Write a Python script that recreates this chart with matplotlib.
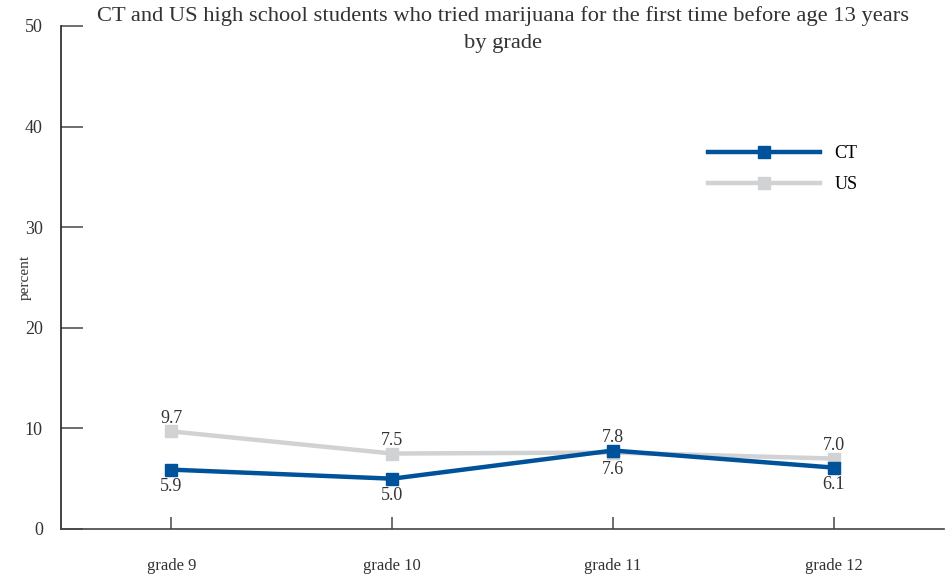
import numpy as np
import matplotlib
matplotlib.use('Agg')
import matplotlib.pyplot as plt

plt.rcParams['font.family'] = ['Liberation Serif', 'DejaVu Serif']

grades = ['grade 9', 'grade 10', 'grade 11', 'grade 12']
ct = [5.9, 5.0, 7.8, 6.1]
us = [9.7, 7.5, 7.6, 7.0]
yticks = [0, 10, 20, 30, 40, 50]

ct_color = '#00539b'
us_color = '#d1d2d4'

fig = plt.figure(figsize=(9.52, 5.76), dpi=100)
ax = fig.add_axes([0.064, 0.0816, 0.928, 0.8734])

x = np.arange(len(grades))
ax.plot(x, us, color=us_color, lw=3.2, marker='s', markersize=9, label='US', zorder=2)
ax.plot(x, ct, color=ct_color, lw=3.2, marker='s', markersize=9, label='CT', zorder=3)

for i in range(len(grades)):
    hi, lo = (ct[i], us[i]) if ct[i] > us[i] else (us[i], ct[i])
    ax.annotate(f'{hi:.1f}', (x[i], hi), xytext=(0, 3), textcoords='offset points',
                ha='center', va='bottom', fontsize=13, color='#333333')
    ax.annotate(f'{lo:.1f}', (x[i], lo), xytext=(0, -6), textcoords='offset points',
                ha='center', va='top', fontsize=13, color='#333333')

ax.set_xlim(-0.5, 3.5)
ax.set_ylim(0, 50)
ax.set_xticks(x)
ax.set_xticklabels(grades)
ax.set_yticks(yticks)
ax.tick_params(axis='y', direction='in', length=16, width=1.2, color='#555555',
               labelsize=13, pad=13, labelcolor='#333333')
ax.tick_params(axis='x', direction='in', length=9, width=1.2, color='#555555',
               labelsize=12, pad=21, labelcolor='#333333')
for s in ['top', 'right']:
    ax.spines[s].set_visible(False)
ax.spines['left'].set_color('#222222')
ax.spines['bottom'].set_color('#444444')
ax.spines['left'].set_linewidth(1.2)
ax.spines['bottom'].set_linewidth(1.2)

ax.set_ylabel('percent', fontsize=11, color='#333333')
ax.yaxis.set_label_coords(-0.033, 0.5)

handles, labels = ax.get_legend_handles_labels()
ax.legend(handles[::-1], labels[::-1], loc='upper right', bbox_to_anchor=(0.92, 0.795),
          frameon=False, handlelength=6.2, fontsize=13, labelspacing=0.75,
          handletextpad=0.8)

fig.text(0.528, 0.99, 'CT and US high school students who tried marijuana for the first time before age 13 years\nby grade',
         ha='center', va='top', fontsize=16.2, color='#333333', linespacing=1.6)

fig.savefig('out.png', dpi=100)
